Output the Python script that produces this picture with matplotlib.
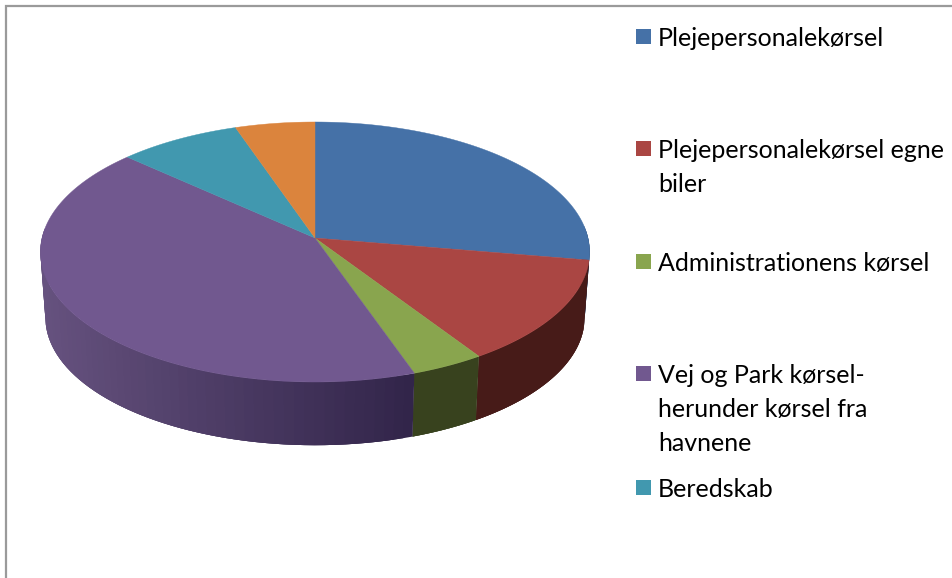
#!/usr/bin/python3

from matplotlib import pyplot as plt
from matplotlib.patches import Polygon, Rectangle
import matplotlib.colors as mcolors
import numpy as np

plt.rcParams['font.family'] = ['Lato', 'DejaVu Sans']

# share of each slice, clockwise from 12 o'clock
values = [27.7, 13.1, 3.9, 42.1, 8.0, 5.2]
labels = ['Plejepersonalekørsel', 'Plejepersonalekørsel egne\nbiler',
          'Administrationens kørsel', 'Vej og Park kørsel-\nherunder kørsel fra\nhavnene',
          'Beredskab']
colors = ['#4571A7', '#AA4643', '#89A54E', '#71588F', '#4198AF', '#DB843D']
side_left = ['#2d4a6e', '#4a1c19', '#38421e', '#66527f', '#2b6373', '#8f5628']
side_right = ['#2d4a6e', '#471b18', '#38421e', '#32254a', '#2b6373', '#8f5628']
legend_y = [37, 149, 262, 374, 488]

# perspective of the tilted disc, in pixels
cx = 315
k = 0.1077


def rim(t, y0, a, b):
    u, v = np.sin(t), np.cos(t)
    return cx + b * u / (1 + k * v), y0 - a * v / (1 + k * v)


def top_rim(t):
    return rim(t, 238, 128.5, 273)


def bottom_rim(t):
    return rim(t, 304, 126, 268)


fig = plt.figure(figsize=(9.53, 5.78), dpi=100)
ax = fig.add_axes([0, 0, 1, 1])
ax.set_xlim(0, 953)
ax.set_ylim(578, 0)
ax.axis('off')

# frame, only top and left show
ax.plot([6, 6, 953], [578, 6, 6], color='#9a9a9a', lw=1.6, solid_joinstyle='miter')

edges = np.cumsum([0] + values) / sum(values) * 2 * np.pi
# side wall, thin strips that overlap the next one so no seams show
for i in range(len(values)):
    ts = np.linspace(edges[i], edges[i + 1], 80)
    ts = ts[(ts > np.pi / 2 - 0.1) & (ts < 3 * np.pi / 2 + 0.1)]
    if len(ts) < 2:
        continue
    c0 = np.array(mcolors.to_rgb(side_left[i]))
    c1 = np.array(mcolors.to_rgb(side_right[i]))
    for j in range(len(ts) - 1):
        a = ts[j]
        b = ts[min(j + 3, len(ts) - 1)]
        seg = np.linspace(a, b, 4)
        xt, yt = top_rim(seg)
        xb, yb = bottom_rim(seg[::-1])
        frac = (top_rim(a)[0] - 41) / (415 - 41)
        col = c0 + (c1 - c0) * min(max(frac, 0), 1)
        ax.add_patch(Polygon(list(zip(xt, yt)) + list(zip(xb, yb)),
                             facecolor=col, edgecolor='none'))

# top face
for i in range(len(values)):
    ts = np.linspace(edges[i], edges[i + 1], 200)
    x, y = top_rim(ts)
    pts = [(cx, 238)] + list(zip(x, y))
    ax.add_patch(Polygon(pts, facecolor=colors[i], edgecolor=colors[i], lw=0.3))

# legend
for lab, col, y in zip(labels, colors, legend_y):
    ax.add_patch(Rectangle((636, y - 8), 15, 15, facecolor=col, edgecolor='none'))
    ax.text(658, y - 10, lab, fontsize=18, color='black', va='top', ha='left',
            linespacing=1.57)

plt.savefig('out.png', dpi=100)
